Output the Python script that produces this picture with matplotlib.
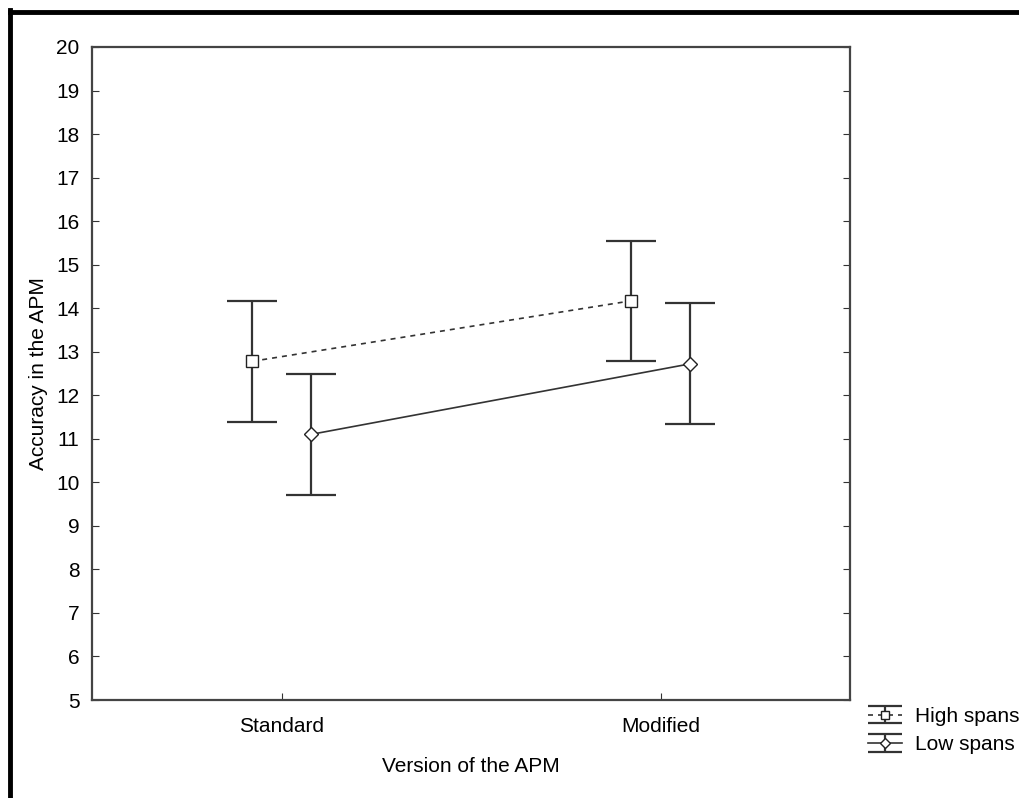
import numpy as np
import matplotlib.pyplot as plt
from matplotlib.lines import Line2D
from matplotlib.legend_handler import HandlerErrorbar
from matplotlib.container import ErrorbarContainer

plt.rcParams['font.family'] = ['Liberation Sans', 'DejaVu Sans']

# Data
versions = ['Standard', 'Modified']
high_mean = [12.78, 14.17]
high_err = [1.39, 1.38]
low_mean = [11.10, 12.72]
low_err = [1.38, 1.39]

x = np.arange(len(versions))
off = 0.077

fig = plt.figure(figsize=(10.19, 7.98), dpi=100)
ax = fig.add_axes([92 / 1019, 98 / 798, 758 / 1019, 653 / 798])

high_style = dict(color='#333333', ls=(0, (3, 3)), lw=1.2, marker='s', ms=8, mfc='white',
                  mec='#222222', capthick=1.6, elinewidth=1.6)
low_style = dict(color='#333333', ls='-', lw=1.2, marker='D', ms=7, mfc='white',
                 mec='#222222', capthick=1.6, elinewidth=1.6)

ax.errorbar(x - off, high_mean, yerr=high_err, capsize=18, **high_style)
ax.errorbar(x + off, low_mean, yerr=low_err, capsize=18, **low_style)

# legend proxies with smaller caps (nothing drawn on the axes)
h1 = ax.errorbar([np.nan], [np.nan], yerr=[1], capsize=12.5, label='High spans', **high_style)
h2 = ax.errorbar([np.nan], [np.nan], yerr=[1], capsize=12.5, label='Low spans', **low_style)

ax.set_xlim(-0.5, 1.5)
ax.set_ylim(5, 20)
ax.set_yticks(range(5, 21))
ax.set_xticks(x)
ax.set_xticklabels(versions)
ax.tick_params(axis='y', direction='in', length=5, right=True, labelsize=15, pad=9,
               colors='#333333', labelcolor='black')
ax.tick_params(axis='x', direction='in', length=5, labelsize=15, pad=12,
               colors='#333333', labelcolor='black')
for s in ax.spines.values():
    s.set_color('#444444')
    s.set_linewidth(1.6)

ax.set_xlabel('Version of the APM', fontsize=15, labelpad=15)
ax.set_ylabel('Accuracy in the APM', fontsize=15, labelpad=6)

fig.legend(handles=[h1, h2], loc='upper left',
           bbox_to_anchor=(868 / 1019, 1 - 707 / 798), frameon=False, fontsize=15,
           handlelength=1.65, handletextpad=0.6, labelspacing=0.45,
           borderpad=0, borderaxespad=0, markerscale=0.8,
           handler_map={ErrorbarContainer: HandlerErrorbar(yerr_size=0.42)})

# outer frame (left and top edges)
fig.add_artist(Line2D([10 / 1019, 10 / 1019], [0, 1 - 10 / 798], transform=fig.transFigure,
                      color='black', lw=3.5))
fig.add_artist(Line2D([10 / 1019, 1], [1 - 12 / 798, 1 - 12 / 798], transform=fig.transFigure,
                      color='black', lw=3.5))

fig.savefig('out.png', dpi=100)
